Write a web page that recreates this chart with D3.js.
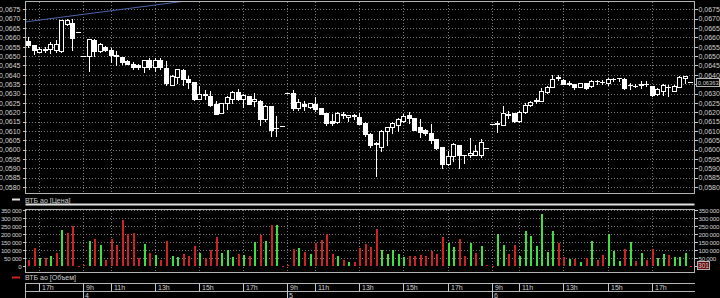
<!DOCTYPE html>
<html>
<head>
<meta charset="utf-8">
<script src="https://cdn.jsdelivr.net/npm/d3@7"></script>
<style>
    body { margin: 0; background: #000; }
    svg { display: block; background: #000; font-family: "Liberation Sans", Arial, sans-serif; }
    .grid line { stroke: #7a7a7a; stroke-dasharray: 1,2; shape-rendering: crispEdges; }
    .frame { fill: none; stroke: #b4b4b4; shape-rendering: crispEdges; }
    .axis { color: #c8c8c8; }
    .axis line { shape-rendering: crispEdges; }
    .candle { shape-rendering: crispEdges; }
    .lbl { fill: #d0d0d0; font-size: 7px; }
    .vol .lbl { font-size: 6.2px; letter-spacing: -0.25px; }
</style>
</head>
<body>
<svg id="chart" width="720" height="298"></svg>
<script>
// sessions shown: day of month, first and last 15-minute bar
const days = [3, 4, 5, 6];
const firstBar = ["16:30", "09:45", "09:45", "09:45"];
const lastBar = ["18:45", "18:45", "18:45", "18:45"];

const open = [
    0.0658, 0.0656, 0.0652, 0.0654, 0.0654, 0.0653, 0.06525, 0.06673, 0.06677, 0.0663,
    0.0650, 0.0650, 0.06586, 0.06527, 0.0655, 0.06534, 0.06507, 0.06495, 0.06473, 0.0646,
    0.06455, 0.06441, 0.06477, 0.06443, 0.0648, 0.06438, 0.06348, 0.06389, 0.06425, 0.0638,
    0.06361, 0.06271, 0.06298, 0.06286, 0.06245, 0.06196, 0.0625, 0.06271, 0.06307, 0.06271,
    0.06289, 0.06259, 0.06259, 0.06161, 0.06232, 0.06116, 0.06126, 0.06304, 0.06304, 0.0622,
    0.06244, 0.06226, 0.06244, 0.06221, 0.06194, 0.06152, 0.06146, 0.06185, 0.06173, 0.0618,
    0.06176, 0.06141, 0.06082, 0.06033, 0.06016, 0.06102, 0.06123, 0.06134, 0.06155, 0.06185,
    0.06167, 0.06123, 0.06105, 0.0609, 0.06055, 0.06016, 0.05924, 0.05966, 0.06025, 0.05971,
    0.05971, 0.0597, 0.05971, 0.06007, 0.06137, 0.0614, 0.0613, 0.06187, 0.06196, 0.06155,
    0.06201, 0.0624, 0.06262, 0.06262, 0.06309, 0.06334, 0.06389, 0.06374, 0.06356, 0.06351,
    0.06333, 0.06356, 0.06338, 0.06365, 0.06363, 0.06356, 0.06379, 0.06383, 0.06379, 0.06343,
    0.06342, 0.06343, 0.06352, 0.06338, 0.06297, 0.06315, 0.06336, 0.06315, 0.06333, 0.06383,
    0.06363
];
const high = [
    0.0660, 0.0656, 0.0655, 0.0655, 0.06573, 0.06584, 0.06695, 0.0670, 0.06698, 0.0663,
    0.0650, 0.0659, 0.0659, 0.0657, 0.06555, 0.06543, 0.06525, 0.06495, 0.06478, 0.0647,
    0.0646, 0.0648, 0.0649, 0.0649, 0.0649, 0.06473, 0.06401, 0.06432, 0.0643, 0.06393,
    0.06361, 0.06339, 0.06318, 0.06313, 0.06259, 0.0625, 0.06286, 0.06313, 0.06325, 0.063,
    0.06289, 0.06304, 0.06264, 0.06236, 0.06232, 0.06182, 0.06126, 0.06304, 0.06318, 0.06268,
    0.0626, 0.0625, 0.0628, 0.06221, 0.06198, 0.06189, 0.06203, 0.062, 0.06185, 0.06189,
    0.06198, 0.0615, 0.06087, 0.06038, 0.06105, 0.06123, 0.0615, 0.06167, 0.06189, 0.06203,
    0.06167, 0.06164, 0.0611, 0.06137, 0.06055, 0.06016, 0.05995, 0.06033, 0.06025, 0.05971,
    0.0606, 0.06025, 0.06057, 0.06007, 0.06137, 0.06155, 0.06231, 0.06205, 0.06196, 0.06205,
    0.06249, 0.06262, 0.06276, 0.06329, 0.06338, 0.06397, 0.06397, 0.0638, 0.06365, 0.06351,
    0.06356, 0.06356, 0.06374, 0.06374, 0.06374, 0.06383, 0.06385, 0.06383, 0.06383, 0.06356,
    0.0635, 0.06365, 0.06365, 0.06338, 0.06329, 0.0635, 0.06343, 0.06347, 0.06392, 0.06392,
    0.06363
];
const low = [
    0.0655, 0.0651, 0.0652, 0.0652, 0.06516, 0.0652, 0.0652, 0.06666, 0.06534, 0.0663,
    0.0650, 0.0642, 0.0650, 0.0652, 0.06525, 0.06466, 0.06455, 0.0646, 0.06457, 0.0643,
    0.0643, 0.06414, 0.0643, 0.0642, 0.0643, 0.06348, 0.06343, 0.06357, 0.06348, 0.0633,
    0.06266, 0.06268, 0.06271, 0.06232, 0.06193, 0.06196, 0.06218, 0.0625, 0.06264, 0.06229,
    0.06246, 0.06232, 0.06134, 0.06152, 0.06071, 0.06075, 0.06126, 0.06304, 0.06214, 0.06214,
    0.0621, 0.0622, 0.06208, 0.06189, 0.06132, 0.06132, 0.06141, 0.0617, 0.06155, 0.06162,
    0.06135, 0.06073, 0.06013, 0.0586, 0.0599, 0.06025, 0.06087, 0.06102, 0.06146, 0.0614,
    0.06105, 0.06069, 0.06078, 0.06033, 0.06002, 0.05901, 0.05919, 0.05941, 0.05901, 0.05929,
    0.05962, 0.0597, 0.05962, 0.06007, 0.06137, 0.06094, 0.0613, 0.0617, 0.06148, 0.06148,
    0.06196, 0.06231, 0.06249, 0.06262, 0.06303, 0.06334, 0.06372, 0.06351, 0.06343, 0.06326,
    0.06333, 0.06326, 0.06333, 0.06351, 0.06351, 0.06347, 0.06365, 0.06365, 0.06326, 0.06326,
    0.06333, 0.06329, 0.06338, 0.06285, 0.06294, 0.06294, 0.06285, 0.06311, 0.06333, 0.06356,
    0.06363
];
const close = [
    0.0656, 0.0653, 0.0654, 0.06535, 0.06563, 0.06564, 0.06691, 0.06691, 0.06596, 0.0663,
    0.0650, 0.0659, 0.06527, 0.06563, 0.06534, 0.06507, 0.0650, 0.06466, 0.06457, 0.0644,
    0.0644, 0.06477, 0.0644, 0.06479, 0.0644, 0.06354, 0.06396, 0.06429, 0.06379, 0.0636,
    0.06268, 0.06298, 0.06294, 0.06241, 0.06193, 0.0625, 0.0628, 0.06309, 0.06268, 0.06293,
    0.06246, 0.06273, 0.06164, 0.06232, 0.06107, 0.06118, 0.06126, 0.06304, 0.06223, 0.06254,
    0.06235, 0.06248, 0.06215, 0.06189, 0.06141, 0.0614, 0.06198, 0.0619, 0.06185, 0.06185,
    0.06135, 0.06082, 0.06025, 0.06028, 0.06102, 0.06119, 0.06141, 0.06164, 0.06182, 0.06167,
    0.06105, 0.06096, 0.06087, 0.06051, 0.06007, 0.05924, 0.05966, 0.0603, 0.05971, 0.05971,
    0.05983, 0.0599, 0.06042, 0.06007, 0.06137, 0.06137, 0.06196, 0.0619, 0.06155, 0.06201,
    0.0624, 0.06254, 0.06267, 0.06312, 0.06334, 0.06379, 0.06382, 0.06351, 0.06351, 0.06333,
    0.06356, 0.06329, 0.06368, 0.06366, 0.06363, 0.06377, 0.0638, 0.06383, 0.06329, 0.06343,
    0.0634, 0.0635, 0.0635, 0.0629, 0.06324, 0.06343, 0.06333, 0.06338, 0.06386, 0.06392,
    0.06363
];
const volume = [
    40000, 117000, 50000, 54000, 62000, 83000, 229000, 210000, 254000, 4000,
    8000, 158000, 171000, 133000, 37000, 169000, 133000, 290000, 200000, 210000,
    50000, 140000, 81000, 71000, 42000, 160000, 62000, 60000, 75000, 62000,
    125000, 85000, 50000, 104000, 185000, 83000, 104000, 60000, 79000, 71000,
    65000, 154000, 196000, 158000, 258000, 258000, 4000, 8000, 108000, 112000,
    87000, 79000, 144000, 165000, 204000, 79000, 65000, 40000, 27000, 27000,
    112000, 142000, 119000, 235000, 104000, 77000, 104000, 75000, 60000, 65000,
    67000, 71000, 65000, 98000, 75000, 185000, 144000, 123000, 171000, 65000,
    148000, 85000, 129000, 8000, 4000, 202000, 133000, 77000, 131000, 67000,
    221000, 192000, 129000, 329000, 87000, 221000, 144000, 60000, 46000, 46000,
    29000, 54000, 158000, 37000, 71000, 200000, 98000, 35000, 106000, 150000,
    35000, 81000, 42000, 106000, 50000, 75000, 71000, 56000, 60000, 85000,
    301
];
// 1 = buy (green), 0 = sell (red)
const volumeUp = [
    0, 0, 1, 0, 1, 0, 1, 0, 0, 0,
    0, 1, 0, 1, 0, 0, 0, 0, 0, 0,
    0, 1, 0, 1, 0, 0, 1, 1, 0, 0,
    0, 1, 0, 0, 0, 1, 1, 1, 0, 1,
    0, 1, 0, 1, 0, 1, 0, 0, 0, 1,
    0, 1, 0, 0, 0, 0, 1, 0, 1, 0,
    0, 0, 0, 0, 1, 1, 1, 1, 1, 0,
    0, 0, 0, 0, 0, 0, 1, 1, 0, 0,
    1, 0, 1, 0, 0, 1, 1, 0, 0, 1,
    1, 1, 1, 1, 1, 1, 0, 0, 1, 0,
    1, 0, 1, 0, 0, 1, 1, 1, 0, 1,
    0, 1, 0, 0, 1, 1, 0, 1, 1, 1,
    0
];
// blue trend line drawn by hand on the chart (bar index, price)
const trendIdx = [-1, 30];
const trendPrice = [0.06681, 0.06800];

const priceTicks = d3.range(0, 20).map(k => 0.058 + k * 0.0005);
const volumeTicks = d3.range(0, 8).map(k => k * 50000);
const legendPrice = "ВТБ ао [Цена]";
const legendVolume = "ВТБ ао [Объем]";

// ---- bar times
const bars = [];
days.forEach((d, k) => {
    const [h0, m0] = firstBar[k].split(':').map(Number);
    const [h1, m1] = lastBar[k].split(':').map(Number);
    const t0 = new Date(2010, 2, d, h0, m0), t1 = new Date(2010, 2, d, h1, m1 + 1);
    d3.timeMinute.every(15).range(t0, t1).forEach(t => bars.push(t));
});
const data = bars.map((t, i) => ({
    t: t, o: open[i], h: high[i], l: low[i], c: close[i], v: volume[i], up: volumeUp[i]
}));

const svg = d3.select('#chart');
const L = 25.5, R = 694.5;

const x = d3.scaleLinear().domain([0, data.length - 1]).range([28, 690.4]);
const y = d3.scaleLinear().domain([0.058, 0.0675]).range([187, 9.35]);
const yv = d3.scaleLinear().domain([0, 350000]).range([266.3, 210.3]);
const px = i => Math.round(x(i));

// hour ticks: first bar of every odd hour, plus day starts
const ticks = [];
data.forEach((d, i) => {
    const prev = data[i - 1];
    const newDay = i > 0 && prev.t.getDate() !== d.t.getDate();
    const h = d.t.getHours();
    if (h % 2 === 1 && (!prev || newDay || prev.t.getHours() !== h)) {
        ticks.push({i: i, label: h + 'h', day: newDay ? d.t.getDate() : null});
    }
});

const fmtPrice = d => d3.format('.4f')(d).replace('.', ',');
const ru = d3.formatLocale({decimal: ',', thousands: ' ', grouping: [3], currency: ['', '']});
const fmtVol = ru.format(',.0f');

const last = data[data.length - 1];
const yl = Math.round(y(last.c));
const yvl = Math.round(yv(last.v));

// ---- grid
const grid = svg.append('g').attr('class', 'grid');
grid.selectAll('.hp').data(priceTicks).enter().append('line')
    .attr('x1', L).attr('x2', R)
    .attr('y1', d => Math.round(y(d)) + 0.5).attr('y2', d => Math.round(y(d)) + 0.5);
grid.selectAll('.hv').data(volumeTicks.slice(1)).enter().append('line')
    .attr('x1', L).attr('x2', R)
    .attr('y1', d => Math.round(yv(d)) + 0.5).attr('y2', d => Math.round(yv(d)) + 0.5);
grid.selectAll('.vp').data(ticks).enter().append('line')
    .attr('x1', d => px(d.i) + 0.5).attr('x2', d => px(d.i) + 0.5)
    .attr('y1', 2).attr('y2', 193);
grid.selectAll('.vv').data(ticks).enter().append('line')
    .attr('x1', d => px(d.i) + 0.5).attr('x2', d => px(d.i) + 0.5)
    .attr('y1', 210).attr('y2', 272);

// ---- trend line
svg.append('clipPath').attr('id', 'clipPrice')
    .append('rect').attr('x', 26).attr('y', 2).attr('width', 668).attr('height', 191);
svg.append('path')
    .datum(trendIdx.map((i, k) => ({i: i, p: trendPrice[k]})))
    .attr('clip-path', 'url(#clipPrice)')
    .attr('fill', 'none').attr('stroke', '#4b62a8').attr('stroke-width', 1)
    .attr('d', d3.line().x(d => x(d.i)).y(d => y(d.p)));

// ---- candles
const candles = svg.append('g').attr('class', 'candle');
const c = candles.selectAll('g').data(data).enter().append('g');
c.append('rect')
    .attr('x', (d, i) => px(i)).attr('width', 1)
    .attr('y', d => Math.round(y(d.h)))
    .attr('height', d => Math.max(1, Math.round(y(d.l)) - Math.round(y(d.h)) + 1))
    .attr('fill', '#fff');
c.each(function(d, i) {
    const g = d3.select(this);
    const top = Math.round(y(Math.max(d.o, d.c)));
    const bot = Math.round(y(Math.min(d.o, d.c)));
    if (d.c > d.o && bot - top >= 2) {
        g.append('rect')
            .attr('x', px(i) - 1.5).attr('y', top + 0.5)
            .attr('width', 4).attr('height', bot - top)
            .attr('fill', '#000').attr('stroke', '#fff');
    } else {
        g.append('rect')
            .attr('x', px(i) - 2).attr('y', top)
            .attr('width', 5).attr('height', Math.max(1, bot - top + 1))
            .attr('fill', '#fff');
    }
});

// ---- volume
svg.append('g').attr('class', 'candle').selectAll('rect').data(data).enter().append('rect')
    .attr('x', (d, i) => px(i) - 0.5).attr('width', 2)
    .attr('y', d => Math.round(yv(d.v)))
    .attr('height', d => Math.max(1, Math.round(yv(0)) - Math.round(yv(d.v))))
    .attr('fill', d => d.up ? '#3ee03e' : '#cc2424');

// ---- frames
svg.append('rect').attr('class', 'frame').attr('x', L).attr('y', 1.5).attr('width', R - L).attr('height', 192);
svg.append('rect').attr('class', 'frame').attr('x', L).attr('y', 209.5).attr('width', R - L).attr('height', 63);
svg.append('line').attr('x1', L).attr('x2', R).attr('y1', 204.5).attr('y2', 204.5)
    .attr('stroke', '#e0e0e0').attr('stroke-width', 2);

// ---- price and volume axes
const styleAxis = g => {
    g.select('.domain').remove();
    g.attr('font-size', null).attr('font-family', null);
    g.selectAll('text').attr('class', 'lbl');
};
// right-hand labels hidden behind the last-value boxes
const hideNear = (scale, yBox) => g => {
    g.selectAll('.tick text').filter(d => Math.abs(scale(d) - yBox) < 6).remove();
};
svg.append('g').attr('class', 'axis').attr('transform', 'translate(' + L + ',0)')
    .call(d3.axisLeft(y).tickValues(priceTicks).tickSize(3).tickPadding(2).tickFormat(fmtPrice))
    .call(styleAxis);
svg.append('g').attr('class', 'axis').attr('transform', 'translate(' + R + ',0)')
    .call(d3.axisRight(y).tickValues(priceTicks).tickSize(3).tickPadding(1).tickFormat(fmtPrice))
    .call(styleAxis).call(hideNear(y, yl));
svg.append('g').attr('class', 'axis vol').attr('transform', 'translate(' + L + ',0)')
    .call(d3.axisLeft(yv).tickValues(volumeTicks).tickSize(3).tickPadding(1).tickFormat(fmtVol))
    .call(styleAxis);
svg.append('g').attr('class', 'axis vol').attr('transform', 'translate(' + R + ',0)')
    .call(d3.axisRight(yv).tickValues(volumeTicks).tickSize(3).tickPadding(1).tickFormat(fmtVol))
    .call(styleAxis).call(hideNear(yv, yvl));

// last price / last volume boxes
svg.append('rect').attr('x', 696.5).attr('y', yl - 3.5).attr('width', 23).attr('height', 8)
    .attr('fill', '#000').attr('stroke', '#b4b4b4');
svg.append('text').attr('class', 'lbl').attr('x', 697.8).attr('y', yl + 2.6)
    .style('font-size', '5.8px').text(d3.format('.5f')(last.c).replace('.', ','));
svg.append('rect').attr('x', 697.5).attr('y', yvl - 4.5).attr('width', 12).attr('height', 8)
    .attr('fill', '#6a0a0a').attr('stroke', '#b4b4b4');
svg.append('text').attr('class', 'lbl').attr('x', 703.5).attr('y', yvl + 2).attr('text-anchor', 'middle')
    .style('font-size', '6.5px').text(last.v);

// ---- legends
svg.append('line').attr('x1', 12).attr('x2', 20).attr('y1', 199.5).attr('y2', 199.5)
    .attr('stroke', '#e0e0e0').attr('stroke-width', 2);
svg.append('text').attr('class', 'lbl').attr('x', 25).attr('y', 202.5).text(legendPrice);
svg.append('line').attr('x1', 12).attr('x2', 20).attr('y1', 277.5).attr('y2', 277.5)
    .attr('stroke', '#d02020').attr('stroke-width', 2);
svg.append('text').attr('class', 'lbl').attr('x', 25).attr('y', 280).text(legendVolume);

// ---- time axis
const ta = svg.append('g').attr('class', 'axis');
ta.append('line').attr('x1', L).attr('x2', R).attr('y1', 283.5).attr('y2', 283.5).attr('stroke', '#b4b4b4');
ta.append('line').attr('x1', L).attr('x2', R).attr('y1', 291.5).attr('y2', 291.5).attr('stroke', '#b4b4b4');
ta.append('line').attr('x1', L).attr('x2', L).attr('y1', 283).attr('y2', 298).attr('stroke', '#b4b4b4');
const tk = ta.selectAll('.tick').data(ticks).enter().append('g');
tk.append('line')
    .attr('x1', d => px(d.i) + 0.5).attr('x2', d => px(d.i) + 0.5)
    .attr('y1', 283).attr('y2', d => d.day ? 298 : 291)
    .attr('stroke', '#c8c8c8');
tk.append('text').attr('class', 'lbl')
    .attr('x', d => px(d.i) + 3).attr('y', 290).text(d => d.label);
tk.filter(d => d.day).append('text').attr('class', 'lbl')
    .attr('x', d => px(d.i) + 2).attr('y', 297.5).text(d => d.day);
</script>
</body>
</html>
